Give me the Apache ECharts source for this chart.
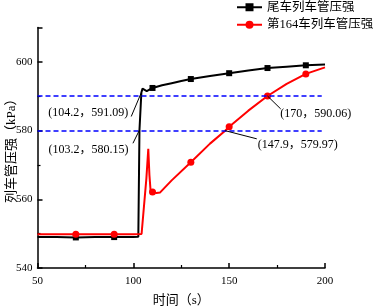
<!DOCTYPE html>
<html>
<head>
<meta charset="utf-8">
<script src="https://cdn.jsdelivr.net/npm/echarts@6/dist/echarts.min.js"></script>
<style>
  html, body { margin: 0; padding: 0; background: #fff; }
</style>
</head>
<body>
<div id="chart" style="width: 373px; height: 306px"></div>
<script>
// 尾车列车管压强
const tailTime = [50, 60, 70, 80, 90, 100, 102.6, 103.2, 104.2, 104.8, 107, 110, 115, 120, 125, 130, 140, 150, 160, 170, 180, 190, 200];
const tailP = [549, 549, 548.9, 549, 549, 549, 549.1, 580.15, 591.09, 592.2, 591.5, 592.4, 593.2, 593.8, 594.4, 595, 595.9, 596.7, 597.5, 598.2, 598.6, 599, 599.2];
// 第164车列车管压强
const carTime = [50, 60, 70, 80, 90, 100, 104.3, 106.8, 107.8, 108.4, 109, 110, 112, 114, 120, 130, 140, 147.9, 150, 160, 170, 180, 190, 200];
const carP = [549.8, 549.8, 549.8, 549.8, 549.8, 549.8, 549.9, 566, 574.7, 567, 562.5, 562.1, 561.8, 562, 565.5, 570.8, 576.2, 579.97, 581.1, 585.8, 590.06, 593.6, 596.5, 598.4];
// 带标记的时刻
const markTime = [70, 90, 110, 130, 150, 170, 190];
// 参考虚线
const refLevels = [590, 580];
// 标注：点、文字位置、文字
const notePoints = [[104.2, 591.09], [103.2, 580.15], [147.9, 579.97], [170, 590.06]];
const noteAnchors = [[98.9, 584.1], [99.8, 576.3], [164.4, 577.6], [176.9, 586.3]];
const noteTextPos = [[76.5, 585.05], [76.6, 574.4], [185.8, 575.8], [195.2, 584.8]];
const noteTexts = ['(104.2，591.09)', '(103.2，580.15)', '(147.9，579.97)', '(170，590.06)'];

const serif = 'Liberation Serif, Noto Sans CJK SC';

function buildData(times, vals) {
  return times.map((t, i) => markTime.includes(t)
    ? [t, vals[i]]
    : { value: [t, vals[i]], symbol: 'none' });
}

const chart = echarts.init(document.getElementById('chart'));
chart.setOption({
  animation: false,
  grid: { left: 37.5, right: 48, top: 27.5, bottom: 38, containLabel: false, outerBoundsMode: 'none' },
  legend: {
    orient: 'vertical',
    left: 236,
    top: 1,
    padding: 0,
    itemWidth: 25,
    itemHeight: 10,
    itemGap: 5,
    data: ['尾车列车管压强', '第164车列车管压强'],
    textStyle: { fontSize: 12.5, color: '#000', fontFamily: serif }
  },
  xAxis: {
    type: 'value',
    min: 50,
    max: 200,
    interval: 50,
    name: '时间（s）',
    nameLocation: 'middle',
    nameGap: 26,
    nameMoveOverlap: false,
    nameTextStyle: { fontSize: 13, color: '#000', fontFamily: serif },
    axisLine: { lineStyle: { color: '#000', width: 1.5 } },
    axisTick: { inside: true, length: 5, lineStyle: { width: 1.5 } },
    minorTick: { show: true, splitNumber: 2, length: 3, lineStyle: { color: '#000', width: 1.2 } },
    axisLabel: { fontSize: 11, color: '#000', fontFamily: serif, margin: 8 },
    splitLine: { show: false }
  },
  yAxis: {
    type: 'value',
    min: 540,
    max: 610,
    interval: 20,
    name: '列车管压强（kPa）',
    nameLocation: 'middle',
    nameRotate: 90,
    nameGap: 19,
    nameMoveOverlap: false,
    nameTextStyle: { fontSize: 13, color: '#000', fontFamily: serif },
    axisLine: { show: true, lineStyle: { color: '#000', width: 1.5 } },
    axisTick: { show: true, inside: true, length: 5, lineStyle: { width: 1.5 } },
    minorTick: { show: true, splitNumber: 2, length: 3, lineStyle: { color: '#000', width: 1.2 } },
    axisLabel: { fontSize: 11, color: '#000', fontFamily: serif, margin: 5, showMaxLabel: false },
    splitLine: { show: false }
  },
  series: [
    {
      name: 'guides',
      type: 'line',
      data: [],
      z: 1,
      markLine: {
        silent: true,
        symbol: 'none',
        label: { show: false },
        lineStyle: { color: '#0000ff', type: [5, 3], width: 1.5 },
        data: refLevels.map(v => [{ coord: [50, v] }, { coord: [198.3, v] }])
      }
    },
    {
      name: '尾车列车管压强',
      type: 'line',
      z: 2,
      symbol: 'rect',
      symbolSize: 6,
      color: '#000',
      lineStyle: { color: '#000', width: 2 },
      itemStyle: { color: '#000' },
      data: buildData(tailTime, tailP)
    },
    {
      name: '第164车列车管压强',
      type: 'line',
      z: 3,
      symbol: 'circle',
      symbolSize: 7,
      color: '#ff0000',
      lineStyle: { color: '#ff0000', width: 2 },
      itemStyle: { color: '#ff0000' },
      data: buildData(carTime, carP)
    },
    {
      name: 'notes',
      type: 'line',
      data: [],
      z: 4,
      markLine: {
        silent: true,
        symbol: 'none',
        label: { show: false },
        lineStyle: { color: '#000', type: 'solid', width: 1 },
        data: notePoints.map((p, i) => [{ coord: p }, { coord: noteAnchors[i] }])
      },
      markPoint: {
        silent: true,
        symbol: 'circle',
        symbolSize: 0,
        label: {
          show: true,
          position: 'inside',
          color: '#000',
          fontSize: 12,
          fontFamily: serif,
          formatter: p => p.name
        },
        data: noteTextPos.map((c, i) => ({ name: noteTexts[i], coord: c }))
      }
    }
  ]
});
</script>
</body>
</html>
